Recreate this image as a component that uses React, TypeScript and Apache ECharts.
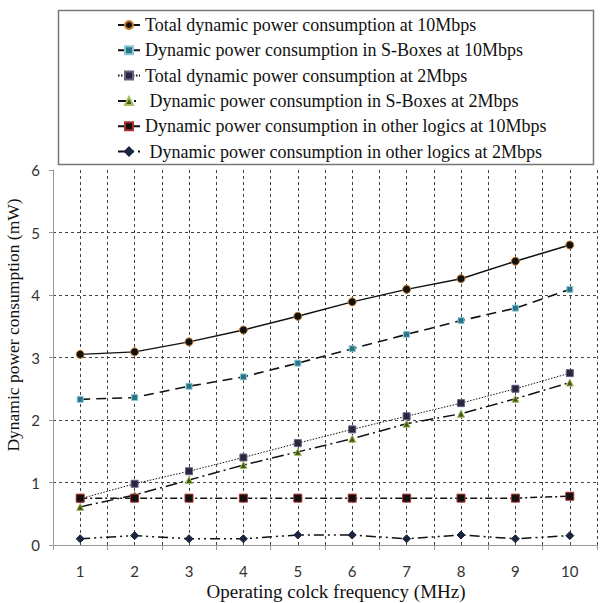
import React, { useEffect, useRef } from "react";
import * as echarts from "echarts";

const categories = [1, 2, 3, 4, 5, 6, 7, 8, 9, 10];
const total10 = [3.05, 3.09, 3.25, 3.44, 3.66, 3.89, 4.09, 4.26, 4.54, 4.8];
const sbox10 = [2.33, 2.36, 2.54, 2.69, 2.91, 3.14, 3.37, 3.59, 3.79, 4.09];
const total2 = [0.74, 0.98, 1.18, 1.4, 1.63, 1.85, 2.06, 2.27, 2.5, 2.75];
const sbox2 = [0.61, 0.8, 1.04, 1.28, 1.49, 1.7, 1.94, 2.1, 2.34, 2.6];
const other10 = [0.75, 0.75, 0.75, 0.75, 0.75, 0.75, 0.75, 0.75, 0.75, 0.78];
const other2 = [0.1, 0.15, 0.1, 0.1, 0.16, 0.16, 0.1, 0.16, 0.1, 0.15];
const yTicks = [0, 1, 2, 3, 4, 5, 6];

const xTitle = "Operating colck frequency (MHz)";
const yTitle = "Dynamic power consumption (mW)";

const names = [
  "Total dynamic power consumption at 10Mbps",
  "Dynamic power consumption in S-Boxes at 10Mbps",
  "Total dynamic power consumption at 2Mbps",
  " Dynamic power consumption in S-Boxes at 2Mbps",
  "Dynamic power consumption in other logics at 10Mbps",
  " Dynamic power consumption in other logics at 2Mbps",
];

const pair = (vals: number[]) => categories.map((c, i) => [c, vals[i]]);

export default function App() {
  const ref = useRef<HTMLDivElement>(null);
  useEffect(() => {
    if (!ref.current) return;
    const chart = echarts.init(ref.current, null, { renderer: "svg" });
    const lineColor = "#111";
    const mk = (
      name: string,
      vals: number[],
      symbol: string,
      size: number,
      fill: string,
      border: string,
      type: any,
      width: number
    ) => ({
      name,
      type: "line",
      xAxisIndex: 0,
      data: pair(vals),
      symbol,
      symbolSize: size,
      showSymbol: true,
      itemStyle: { color: fill, borderColor: border, borderWidth: 1 },
      lineStyle: { color: lineColor, width, type },
      z: 5,
    });
    chart.setOption({
      animation: false,
      backgroundColor: "#fff",
      grid: { left: 53, top: 170, width: 552, height: 375, containLabel: false },
      graphic: [
        {
          type: "rect",
          shape: { x: 58.5, y: 10.5, width: 535, height: 154 },
          style: { fill: "#fff", stroke: "#777", lineWidth: 1.5 },
          z: 0,
        },
        {
          type: "text",
          x: 336,
          y: 591,
          style: {
            text: xTitle,
            fontFamily: "Liberation Serif",
            fontSize: 19,
            fill: "#111",
            textAlign: "center",
            textVerticalAlign: "middle",
          },
        },
        {
          type: "text",
          x: 13,
          y: 325,
          rotation: Math.PI / 2,
          style: {
            text: yTitle,
            fontFamily: "Liberation Serif",
            fontSize: 17.5,
            fill: "#111",
            textAlign: "center",
            textVerticalAlign: "middle",
          },
        },
      ],
      legend: {
        orient: "vertical",
        left: 117,
        top: 16,
        itemWidth: 22,
        itemHeight: 10,
        itemGap: 7.3,
        padding: 0,
        data: names,
        textStyle: {
          fontFamily: "Liberation Serif",
          fontSize: 18,
          lineHeight: 18,
          color: "#111",
        },
        z: 10,
      },
      xAxis: [
        {
          type: "value",
          min: 0.5,
          max: 10.5,
          interval: 0.5,
          axisLine: { show: true, onZero: false, lineStyle: { color: "#999", width: 1 } },
          axisTick: { show: false },
          axisLabel: {
            margin: 18,
            fontFamily: "Lato",
            fontSize: 15,
            color: "#333",
            formatter: (v: number) => (categories.includes(v) ? String(v) : ""),
          },
          splitLine: {
            show: true,
            lineStyle: { color: "#444", width: 1, type: [3, 3] },
          },
        },
        {
          type: "category",
          data: categories.map(String),
          boundaryGap: true,
          position: "bottom",
          axisLine: { show: false },
          axisTick: { show: true, length: 5, lineStyle: { color: "#999" } },
          axisLabel: { show: false },
          splitLine: { show: false },
        },
      ],
      yAxis: {
        type: "value",
        min: yTicks[0],
        max: yTicks[yTicks.length - 1],
        interval: 1,
        axisLine: { show: true, lineStyle: { color: "#999", width: 1 } },
        axisTick: { show: true, length: 4, lineStyle: { color: "#999" } },
        axisLabel: { margin: 13, fontFamily: "Lato", fontSize: 15, color: "#333" },
        splitLine: {
          show: true,
          showMinLine: false,
          showMaxLine: false,
          lineStyle: { color: "#444", width: 1, type: [3, 3] },
        },
      },
      series: [
        mk(names[0], total10, "circle", 8, "#111", "#c8782a", "solid", 1.5),
        mk(names[1], sbox10, "rect", 6, "#2a7585", "#8cc8d8", [10, 6], 1.6),
        mk(names[2], total2, "rect", 7, "#2a2440", "#6a6080", [1.5, 1.5], 1),
        mk(names[3], sbox2, "triangle", 7, "#3f5a18", "#a8c060", [12, 4, 2, 4], 1.5),
        mk(names[4], other10, "rect", 8, "#111", "#b03030", [7, 3, 2, 3], 1.5),
        mk(names[5], other2, "diamond", 8, "#1a2540", "#1a2540", [10, 4, 2, 4, 2, 4], 1.5),
      ],
    });
    return () => chart.dispose();
  }, []);
  return <div ref={ref} style={{ width: 600, height: 603, position: "absolute", left: 0, top: 0 }} />;
}
